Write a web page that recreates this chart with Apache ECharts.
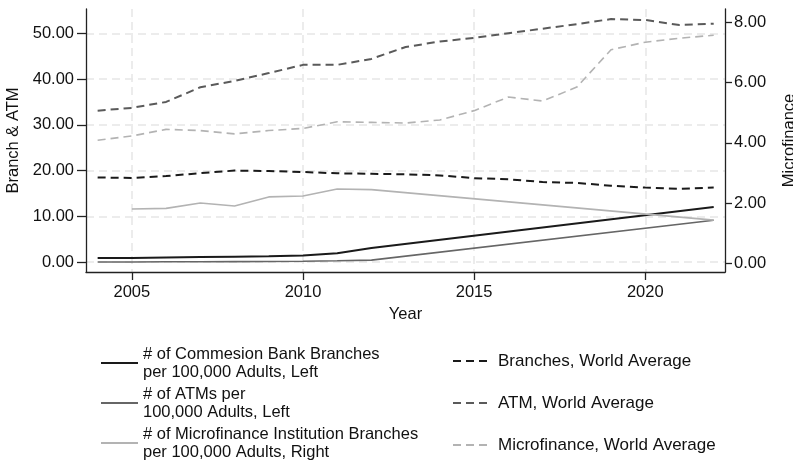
<!DOCTYPE html>
<html>
<head>
<meta charset="utf-8">
<script src="https://cdn.jsdelivr.net/npm/echarts@6/dist/echarts.min.js"></script>
<style>
  html, body { margin: 0; padding: 0; background: #fff; }
  #chart { width: 793px; height: 462px; }
</style>
</head>
<body>
<div id="chart"></div>
<script>
// Years covered by the series
const years = [2004, 2005, 2006, 2007, 2008, 2009, 2010, 2011, 2012, 2013,
               2014, 2015, 2016, 2017, 2018, 2019, 2020, 2021, 2022];

// Country series (gaps are joined by a straight segment)
const commercialBranches = [0.9, 0.9, 1.0, 1.1, 1.2, 1.3, 1.45, 1.95, 3.1, null,
                            null, null, null, null, null, null, null, null, 12.05];
const atms = [0.05, 0.05, 0.08, 0.1, 0.12, 0.15, 0.2, 0.3, 0.45, null,
              null, null, null, null, null, null, null, null, 9.15];
const microBranches = [null, 1.81, 1.83, 2.01, 1.91, 2.21, 2.24, 2.47, 2.45, null,
                       null, null, null, null, null, null, null, null, 1.44];

// World averages
const branchesWorld = [18.5, 18.4, 18.8, 19.45, 20.0, 19.9, 19.7, 19.4, 19.3, 19.2,
                       18.95, 18.35, 18.1, 17.5, 17.3, 16.7, 16.3, 16.0, 16.3];
const atmWorld = [33.1, 33.7, 35.0, 38.2, 39.6, 41.3, 43.1, 43.1, 44.4, 47.0,
                  48.2, 49.0, 50.0, 51.0, 52.0, 53.1, 52.9, 51.8, 52.1];
const microWorld = [4.09, 4.23, 4.45, 4.41, 4.30, 4.41, 4.48, 4.70, 4.68, 4.66,
                    4.76, 5.07, 5.52, 5.39, 5.85, 7.09, 7.34, 7.47, 7.57];

// Tick labels
const yearTicks = [2005, 2010, 2015, 2020];
const leftTicks = [0, 10, 20, 30, 40, 50];
const rightTicks = [0, 2, 4, 6, 8];

const names = [
  '# of Commesion Bank Branches\nper 100,000 Adults, Left',
  '# of ATMs per\n100,000 Adults, Left',
  '# of Microfinance Institution Branches\nper 100,000 Adults, Right',
  'Branches, World Average',
  'ATM, World Average',
  'Microfinance, World Average'
];

const pairs = vals => years.map((y, i) => [y, vals[i]]);
const FONT = '"Liberation Sans", Arial, Helvetica, sans-serif';
const AXIS_COLOR = '#222';

function lineSeries(name, vals, yIdx, color, width, dashed) {
  return {
    name: name,
    type: 'line',
    yAxisIndex: yIdx,
    data: pairs(vals),
    connectNulls: true,
    symbol: 'none',
    smooth: false,
    silent: true,
    lineStyle: { color: color, width: width, type: dashed ? [8, 5] : 'solid', cap: 'butt' },
    itemStyle: { color: color },
    z: 3
  };
}

const chart = echarts.init(document.getElementById('chart'), null, { renderer: 'canvas' });

// Legend keys show only the line sample, no marker
const legendBase = {
  orient: 'vertical',
  padding: 0,
  itemHeight: 14,
  selectedMode: false,
  itemStyle: { opacity: 0 }
};

chart.setOption({
  animation: false,
  backgroundColor: '#fff',
  textStyle: { fontFamily: FONT },
  grid: { left: 86, right: 68, top: 9, bottom: 190, containLabel: false, outerBoundsMode: 'none' },
  xAxis: {
    type: 'value',
    min: 2003.66,
    max: 2022.33,
    name: 'Year',
    nameLocation: 'middle',
    nameGap: 32,
    nameTextStyle: { fontSize: 16.5, color: '#111', fontFamily: FONT },
    axisLine: { show: true, onZero: false, lineStyle: { color: AXIS_COLOR, width: 1.3 } },
    axisTick: { show: true, length: 8, customValues: yearTicks, lineStyle: { color: AXIS_COLOR, width: 1.3 } },
    axisLabel: { customValues: yearTicks, fontSize: 16.5, color: '#111', margin: 12, fontFamily: FONT,
                 formatter: v => String(v) },
    splitLine: { show: true, lineStyle: { color: '#e6e6e6', width: 1.5, type: [8, 5] } }
  },
  yAxis: [
    {
      type: 'value',
      position: 'left',
      min: -2.15,
      max: 55.3,
      name: 'Branch & ATM',
      nameLocation: 'middle',
      nameRotate: 90,
      nameGap: 57,
      nameTextStyle: { fontSize: 16.5, color: '#111', fontFamily: FONT },
      axisLine: { show: true, onZero: false, lineStyle: { color: AXIS_COLOR, width: 1.3 } },
      axisTick: { show: true, length: 9, customValues: leftTicks, lineStyle: { color: AXIS_COLOR, width: 1.3 } },
      axisLabel: { customValues: leftTicks, fontSize: 16.5, color: '#111', margin: 12, fontFamily: FONT,
                   formatter: v => v.toFixed(2) },
      splitLine: { show: true, lineStyle: { color: '#e6e6e6', width: 1.5, type: [8, 5] } }
    },
    {
      type: 'value',
      position: 'right',
      min: -0.28,
      max: 8.44,
      name: 'Microfinance',
      nameLocation: 'middle',
      nameRotate: 90,
      nameGap: 56,
      nameTextStyle: { fontSize: 16.5, color: '#111', fontFamily: FONT },
      axisLine: { show: true, onZero: false, lineStyle: { color: AXIS_COLOR, width: 1.3 } },
      axisTick: { show: true, length: 7, customValues: rightTicks, lineStyle: { color: AXIS_COLOR, width: 1.3 } },
      axisLabel: { customValues: rightTicks, fontSize: 16.5, color: '#111', margin: 9, fontFamily: FONT,
                   formatter: v => v.toFixed(2) },
      splitLine: { show: false }
    }
  ],
  legend: [
    Object.assign({}, legendBase, {
      left: 100,
      top: 345,
      itemWidth: 37,
      itemGap: 4,
      data: names.slice(0, 3),
      textStyle: { fontSize: 16.5, lineHeight: 18, color: '#111', fontFamily: FONT }
    }),
    Object.assign({}, legendBase, {
      left: 452,
      top: 352,
      itemWidth: 35,
      itemGap: 24,
      data: names.slice(3),
      textStyle: { fontSize: 17, lineHeight: 18, color: '#111', fontFamily: FONT, padding: [0, 0, 0, 5] }
    })
  ],
  series: [
    lineSeries(names[0], commercialBranches, 0, '#1a1a1a', 2, false),
    lineSeries(names[1], atms, 0, '#666666', 1.6, false),
    lineSeries(names[2], microBranches, 1, '#b3b3b3', 1.6, false),
    lineSeries(names[3], branchesWorld, 0, '#1a1a1a', 2, true),
    lineSeries(names[4], atmWorld, 0, '#5a5a5a', 2, true),
    lineSeries(names[5], microWorld, 1, '#b3b3b3', 1.6, true)
  ]
});
</script>
</body>
</html>
